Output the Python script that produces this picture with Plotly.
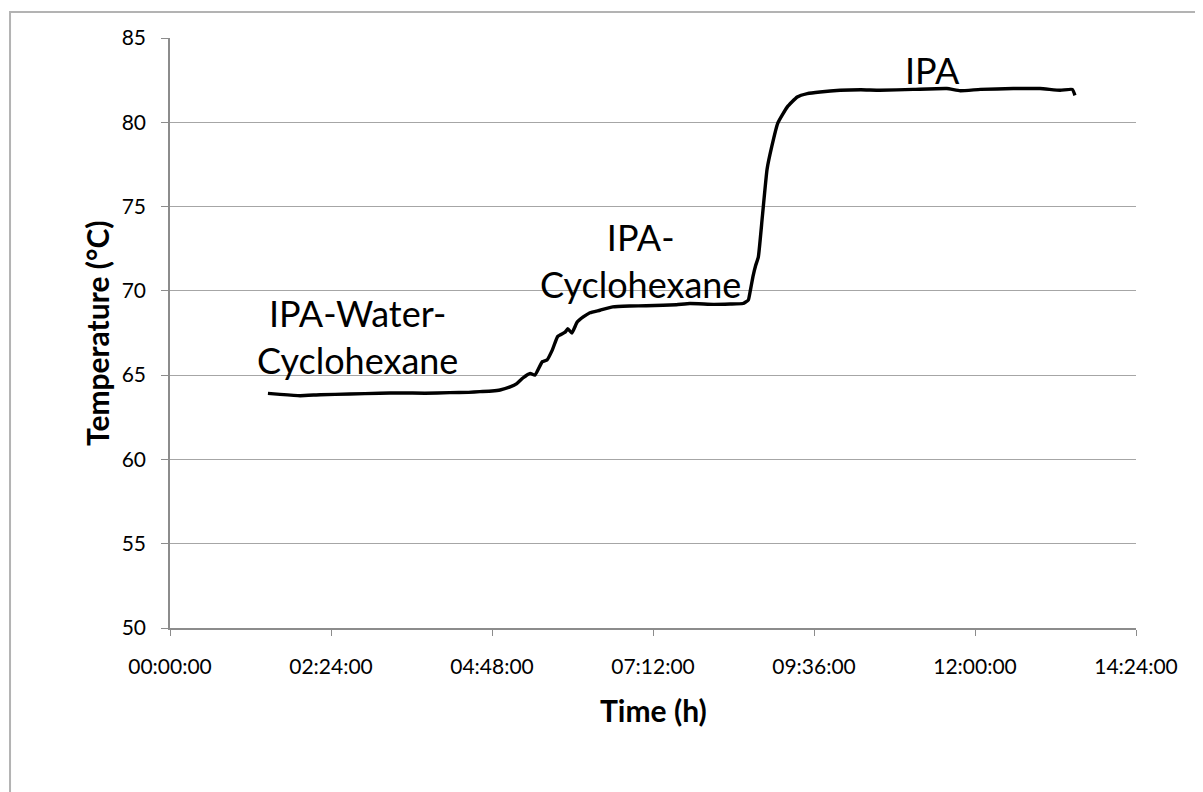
import plotly.graph_objects as go

# Time in hours, temperature in °C
time_h = [
    1.46, 1.64, 1.94, 2.24, 2.68, 3.13, 3.43, 3.80, 4.17, 4.45, 4.62, 4.80,
    4.92, 5.07, 5.17, 5.26, 5.37, 5.44, 5.55, 5.62, 5.70, 5.78, 5.89, 5.93,
    5.99, 6.07, 6.16, 6.26, 6.41, 6.60, 6.86, 7.10, 7.35, 7.55, 7.75, 8.10,
    8.35, 8.54, 8.62, 8.65, 8.69, 8.73, 8.77, 8.83, 8.90, 8.97, 9.06, 9.20,
    9.35, 9.50, 9.69, 9.99, 10.30, 10.58, 11.08, 11.58, 11.78, 12.08, 12.57,
    12.97, 13.27, 13.45, 13.49,
]
temp_c = [
    63.92, 63.86, 63.78, 63.84, 63.88, 63.93, 63.95, 63.93, 63.96, 63.98, 64.02, 64.06,
    64.12, 64.30, 64.50, 64.83, 65.10, 65.00, 65.80, 65.90, 66.50, 67.30, 67.55, 67.75,
    67.50, 68.15, 68.45, 68.70, 68.85, 69.05, 69.10, 69.12, 69.15, 69.18, 69.25, 69.20,
    69.22, 69.25, 69.45, 70.00, 70.84, 71.50, 72.00, 74.40, 77.20, 78.55, 79.95, 80.90,
    81.50, 81.70, 81.80, 81.90, 81.93, 81.90, 81.95, 82.00, 81.87, 81.95, 82.00,
    82.00, 81.90, 81.95, 81.60,
]

tick_vals = [0, 2.4, 4.8, 7.2, 9.6, 12.0, 14.4]
tick_text = ["00:00:00", "02:24:00", "04:48:00", "07:12:00", "09:36:00", "12:00:00", "14:24:00"]

labels = ["IPA-Water-<br>Cyclohexane", "IPA-<br>Cyclohexane", "IPA"]
label_x = [2.79, 7.01, 11.37]
label_y = [67.3, 71.8, 83.1]

FONT = "Lato, Calibri, sans-serif"
GRID = "#a6a6a6"
AXIS = "#8c8c8c"

fig = go.Figure(go.Scatter(
    x=time_h,
    y=temp_c,
    mode="lines",
    line=dict(color="black", width=3.4, shape="spline", smoothing=0.4),
    showlegend=False,
    hoverinfo="skip",
))

for text, x, y in zip(labels, label_x, label_y):
    fig.add_annotation(
        x=x, y=y, text=text, showarrow=False,
        font=dict(family=FONT, size=36, color="black"),
        xanchor="center", yanchor="middle", align="center",
    )

# axis titles
fig.add_annotation(
    xref="paper", yref="paper", x=0, y=0.5, xshift=-73,
    text="<b>Temperature (°C)</b>", textangle=-90, showarrow=False,
    font=dict(family=FONT, size=30, color="black"),
    xanchor="center", yanchor="middle",
)
fig.add_annotation(
    xref="paper", yref="paper", x=0.5, y=0, yshift=-82,
    text="<b>Time (h)</b>", showarrow=False,
    font=dict(family=FONT, size=30, color="black"),
    xanchor="center", yanchor="middle",
)

# outer chart border
fig.add_shape(
    type="rect", xref="paper", yref="paper",
    x0=-0.1656, x1=1.08, y0=-0.32, y1=1.044,
    line=dict(color="#b3b3b3", width=2), layer="below",
)

# the page adds an 8px body margin, so the margins below compensate for it
fig.update_layout(
    width=1203,
    height=792,
    paper_bgcolor="white",
    plot_bgcolor="white",
    font=dict(family=FONT, color="black"),
    margin=dict(l=162, r=75, t=30, b=172),
    xaxis=dict(
        range=[0, 14.4],
        tickvals=tick_vals,
        ticktext=tick_text,
        showgrid=False,
        zeroline=False,
        showline=True,
        linecolor=AXIS,
        linewidth=1.5,
        ticks="outside",
        ticklen=6,
        tickcolor=AXIS,
        tickfont=dict(family=FONT, size=21, color="black"),
        ticklabelstandoff=13,
    ),
    yaxis=dict(
        range=[50, 85],
        dtick=5,
        showgrid=True,
        gridcolor=GRID,
        gridwidth=1,
        zeroline=False,
        showline=True,
        linecolor=AXIS,
        linewidth=1.5,
        ticks="outside",
        ticklen=7,
        tickcolor=AXIS,
        tickfont=dict(family=FONT, size=21, color="black"),
        ticklabelstandoff=11,
    ),
)

fig.write_html("out.html")
